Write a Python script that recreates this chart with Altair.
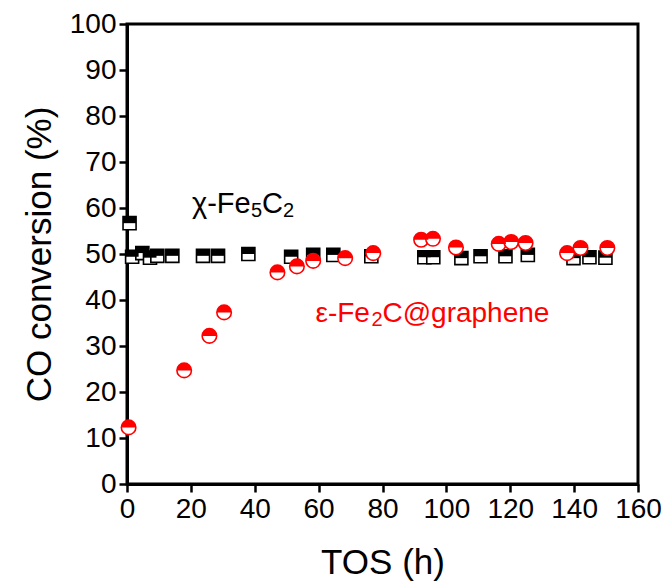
import altair as alt
import pandas as pd

# chi-Fe5C2 (half-filled black squares)
sq_x = [0.8, 1.6, 4.8, 7.2, 9.5, 14.2, 23.8, 28.5, 38.0, 51.4, 58.3, 64.6, 76.5,
        93.1, 95.9, 104.7, 110.7, 118.5, 125.5, 139.8, 144.8, 149.8]
sq_y = [56.7, 49.4, 50.2, 49.2, 49.6, 49.6, 49.6, 49.6, 50.0, 49.4, 49.8, 49.8, 49.5,
        49.3, 49.3, 49.1, 49.5, 49.5, 49.8, 49.1, 49.3, 49.2]

# eps-Fe2C@graphene (half-filled red circles)
ci_x = [0.5, 17.9, 25.8, 30.4, 47.1, 53.2, 58.3, 68.3, 77.1, 92.1, 95.8, 103.0,
        116.4, 120.3, 124.8, 137.8, 142.0, 150.4]
ci_y = [12.3, 24.7, 32.2, 37.3, 46.0, 47.3, 48.5, 49.1, 50.2, 53.1, 53.3, 51.4,
        52.2, 52.6, 52.4, 50.2, 51.3, 51.3]

y_ticks = list(range(0, 101, 5))
x_ticks = list(range(0, 161, 10))

FONT = "Liberation Sans"

df_sq = pd.DataFrame({"TOS": sq_x, "conv": sq_y})
df_ci = pd.DataFrame({"TOS": ci_x, "conv": ci_y})

x_enc = alt.X("TOS:Q", scale=alt.Scale(domain=[0, 160], nice=False, zero=False),
              axis=alt.Axis(title="TOS (h)", values=x_ticks,
                            labelExpr="datum.value % 20 == 0 ? datum.label : ''",
                            tickSize={"condition": {"test": "datum.value % 20 == 0", "value": 8}, "value": 5},
                            labelFlush=False, labelOverlap=False, labelPadding=3,
                            titlePadding=22))
y_enc = alt.Y("conv:Q", scale=alt.Scale(domain=[0, 100], nice=False),
              axis=alt.Axis(title="CO conversion (%)", values=y_ticks,
                            labelExpr="datum.value % 10 == 0 ? datum.label : ''",
                            tickSize={"condition": {"test": "datum.value % 10 == 0", "value": 8}, "value": 5},
                            labelFlush=False, labelOverlap=False, labelPadding=3,
                            titlePadding=12))

SQ_SIZE = 170
CI_SIZE = 210
half_sq = "M-1,-1L1,-1L1,0L-1,0Z"
half_ci = "M-1,0C-1,-0.552,-0.552,-1,0,-1C0.552,-1,1,-0.552,1,0Z"

sq_base = alt.Chart(df_sq).mark_point(shape="square", size=SQ_SIZE, filled=True, fill="white",
                                      stroke="black", strokeWidth=1.6, opacity=1).encode(x=x_enc, y=y_enc)
sq_top = alt.Chart(df_sq).mark_point(shape=half_sq, size=SQ_SIZE, filled=True, fill="black",
                                     strokeWidth=0, opacity=1).encode(x="TOS:Q", y="conv:Q")
ci_base = alt.Chart(df_ci).mark_point(shape="circle", size=CI_SIZE, filled=True, fill="white",
                                      stroke="#ff0000", strokeWidth=1.6, opacity=1).encode(x="TOS:Q", y="conv:Q")
ci_top = alt.Chart(df_ci).mark_point(shape=half_ci, size=CI_SIZE, filled=True, fill="#ff0000",
                                     strokeWidth=0, opacity=1).encode(x="TOS:Q", y="conv:Q")

# annotations: (text, x, y, dx, dy, size, color)
anno_text = ["χ-Fe", "5", "C", "2", "ε-Fe", "2", "C@graphene"]
anno_x = [20.35, 20.35, 20.35, 20.35, 59.0, 59.0, 59.0]
anno_y = [58.9, 58.9, 58.9, 58.9, 35.2, 35.2, 35.2]
anno_dx = [0, 59, 70, 91, 0, 56, 67]
anno_dy = [0, 4, 0, 4, 0, 4, 0]
anno_size = [29, 20, 29, 20, 28, 20, 28]
anno_color = ["black", "black", "black", "black", "#ff0000", "#ff0000", "#ff0000"]

texts = []
for t, ax, ay, dx, dy, fs, col in zip(anno_text, anno_x, anno_y, anno_dx, anno_dy, anno_size, anno_color):
    texts.append(
        alt.Chart(pd.DataFrame({"TOS": [ax], "conv": [ay], "t": [t]}))
        .mark_text(align="left", baseline="alphabetic", dx=dx, dy=dy, fontSize=fs,
                   font=FONT, color=col)
        .encode(x="TOS:Q", y="conv:Q", text="t:N")
    )

chart = alt.layer(sq_base, sq_top, ci_base, ci_top, *texts).properties(
    width=511, height=460,
    autosize=alt.AutoSizeParams(type="none"),
    padding={"left": 127, "top": 24, "right": 31, "bottom": 101},
).configure_view(stroke="black", strokeWidth=3).configure_axis(
    domainColor="black", domainWidth=3, tickColor="black", tickWidth=2.5,
    labelFont=FONT, labelFontSize=28, labelColor="black",
    titleFont=FONT, titleFontSize=35, titleFontWeight="normal", titleColor="black",
    grid=False,
)

chart.save("out.html", embed_options={"renderer": "svg", "actions": False})
